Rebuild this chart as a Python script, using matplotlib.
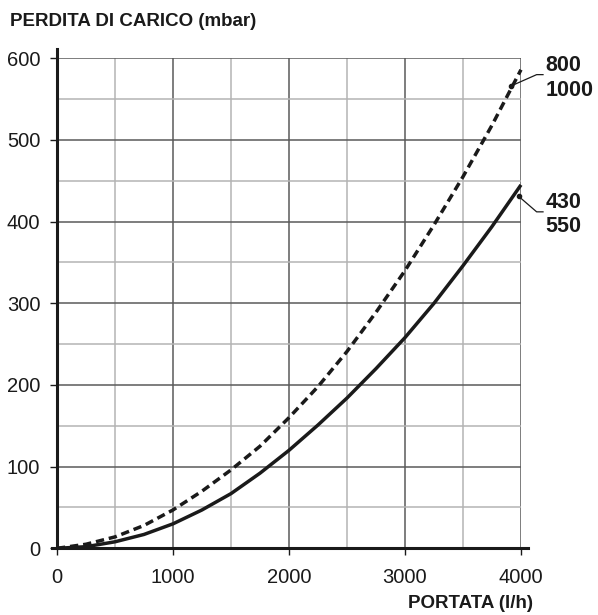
import matplotlib
matplotlib.use("Agg")
import matplotlib.pyplot as plt

plt.rcParams["font.family"] = ["Liberation Sans", "DejaVu Sans"]

# flow rate (l/h)
portata = [0, 250, 500, 750, 1000, 1250, 1500, 1750, 2000, 2250, 2500,
           2750, 3000, 3250, 3500, 3750, 4000]
# pressure drop (mbar) - models 430 / 550
perdita_430_550 = [0, 2, 8, 17, 30, 47, 67, 92, 120, 151, 184,
                   220, 258, 300, 346, 394, 445]
# pressure drop (mbar) - models 800 / 1000
perdita_800_1000 = [0, 5, 14, 28, 47, 70, 96, 125, 160, 198, 241,
                    289, 340, 396, 455, 518, 586]

x_ticks = [0, 1000, 2000, 3000, 4000]
y_ticks = [0, 100, 200, 300, 400, 500, 600]

fig = plt.figure(figsize=(5.98, 6.15), dpi=100)
ax = fig.add_axes([0.0953, 0.1084, 0.7759, 0.7968])

ax.set_xlim(0, 4000)
ax.set_ylim(0, 600)
ax.set_xticks(x_ticks)
ax.set_yticks(y_ticks)
ax.set_xticks(range(500, 4000, 1000), minor=True)
ax.set_yticks(range(50, 600, 100), minor=True)

ax.grid(which="major", color="#5a5a5a", linewidth=1.1)
ax.grid(which="minor", color="#b4b4b4", linewidth=1.1)
ax.set_axisbelow(True)

for s in ax.spines.values():
    s.set_visible(False)

# thick axis lines, slightly overshooting
ax.plot([0, 0], [0, 612], color="#1a1a1a", lw=2.2, clip_on=False, zorder=4)
ax.plot([-40, 4060], [0, 0], color="#1a1a1a", lw=2.2, clip_on=False, zorder=4)

ax.tick_params(which="major", length=5, width=1, color="#1a1a1a",
               labelsize=14.5, labelcolor="#1a1a1a")
ax.tick_params(axis="y", pad=7)
ax.tick_params(axis="x", pad=9)
ax.tick_params(which="minor", length=0)

ax.plot(portata, perdita_430_550, color="#1a1a1a", lw=2.5,
        solid_capstyle="butt", zorder=5, clip_on=False)
ax.plot(portata, perdita_800_1000, color="#1a1a1a", lw=2.5,
        linestyle=(0, (2.4, 1.4)), zorder=5, clip_on=False)

# leader lines and labels
ax.plot([3912, 4135, 4190], [566, 580, 580], color="#1a1a1a", lw=0.9, clip_on=False)
ax.plot([3912], [566], "o", color="#1a1a1a", ms=3, clip_on=False)
ax.plot([3980, 4135, 4190], [431, 412, 412], color="#1a1a1a", lw=0.9, clip_on=False)
ax.plot([3980], [431], "o", color="#1a1a1a", ms=3, clip_on=False)

ax.text(4210, 576, "800\n1000", fontsize=15.5, fontweight="bold",
        color="#1a1a1a", ha="left", va="center", linespacing=1.2)
ax.text(4210, 409, "430\n550", fontsize=15.5, fontweight="bold",
        color="#1a1a1a", ha="left", va="center", linespacing=1.2)

fig.text(10 / 598, 1 - 22 / 615, "PERDITA DI CARICO (mbar)", fontsize=13.5,
         fontweight="bold", color="#1a1a1a", ha="left", va="center")
fig.text(533 / 598, 1 - 604 / 615, "PORTATA (l/h)", fontsize=13.5,
         fontweight="bold", color="#1a1a1a", ha="right", va="center")

fig.savefig("out.png", dpi=100)
